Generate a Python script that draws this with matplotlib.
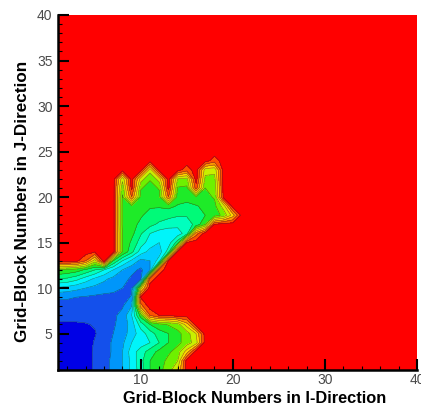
import numpy as np
import matplotlib
matplotlib.use("Agg")
import matplotlib.pyplot as plt
from matplotlib.colors import ListedColormap, BoundaryNorm
from matplotlib.ticker import MultipleLocator

plt.rcParams['font.family'] = ['Liberation Sans', 'DejaVu Sans']

# Grid-block indices (40 x 40 model)
i_blocks = np.arange(1, 41)
j_blocks = np.arange(1, 41)

# Background value of the field (swept region)
field_max = 13.0

# Field values in the lower-left corner, one row per J (J = 1, 2, ...), I = 1..22.
# Blocks not listed hold field_max.
row_j01 = [0, 0, 0, 0, 0.7, 1.2, 1.7, 2.5, 3.8, 5, 6.5, 7.2, 8, 9.5, 13]
row_j02 = [0, 0, 0, 0, 0.7, 1.2, 1.7, 2.5, 3.8, 5.2, 6.5, 7, 7.8, 8.5, 13]
row_j03 = [0, 0, 0, 0, 0.7, 1.2, 1.6, 2.5, 4, 5, 6, 6.8, 7.3, 8, 10, 13]
row_j04 = [0, 0, 0, 0, 0.6, 1.2, 1.6, 2.3, 3.5, 4, 4.5, 5.5, 6.5, 7.2, 8, 9, 13]
row_j05 = [0, 0, 0, 0, 0.4, 1.1, 1.5, 2, 3, 4, 5, 6, 6.5, 7.2, 8, 9.5, 13]
row_j06 = [0.3, 0.3, 0.3, 0.4, 0.6, 1.1, 1.4, 1.8, 3, 5, 6.5, 7.2, 7.6, 8, 10, 13]
row_j07 = [1, 1, 1, 1, 1, 1.1, 1.3, 1.8, 3.5, 7, 11.5, 12.5, 12.5, 13]
row_j08 = [1.2, 1.2, 1.1, 1.1, 1.1, 1.1, 1.2, 1.4, 2.5, 11, 13]
row_j09 = [1.6, 1.6, 1.5, 1.4, 1.3, 1.2, 1.2, 1.1, 1.6, 12.6, 13]
row_j10 = [3.3, 3.1, 2.8, 2.5, 2.2, 2, 1.8, 1.5, 1.2, 9, 13]
row_j11 = [5.5, 5.3, 4.8, 4, 3.3, 2.7, 2.2, 1.9, 1.3, 1.3, 12, 13]
row_j12 = [7.5, 7.3, 7, 6.3, 5.5, 4.5, 3.5, 2.5, 1.8, 1.3, 2.5, 12, 13]
row_j13 = [13, 13, 12.8, 11.5, 9, 13, 6.5, 4.5, 3.3, 2.2, 2.5, 4, 12.5, 13]
row_j14 = [13, 13, 13, 13, 12.6, 13, 13, 7.5, 5.8, 4, 3.2, 3, 5, 12.6, 13]
row_j15 = [13, 13, 13, 13, 13, 13, 13, 7.5, 6.3, 5, 4, 3.5, 4, 6, 12.5, 13]
row_j16 = [13, 13, 13, 13, 13, 13, 13, 7.5, 6.8, 5.6, 4.5, 4, 3.8, 4, 5, 11, 13]
row_j17 = [13, 13, 13, 13, 13, 13, 13, 7.3, 6.8, 6.3, 5.8, 5.3, 5, 4.8, 5, 5.8, 7.5, 12.5, 13]
row_j18 = [13, 13, 13, 13, 13, 13, 13, 7.3, 7, 6.6, 6.2, 6, 5.8, 5.6, 5.6, 6, 6.5, 7, 7.8, 10, 13]
row_j19 = [13, 13, 13, 13, 13, 13, 13, 7.3, 7.2, 6.9, 6.6, 6.6, 6.8, 6.4, 6.2, 6.4, 6.8, 7.2, 9, 13]
row_j20 = [13, 13, 13, 13, 13, 13, 13, 7.4, 11.5, 7.1, 6.9, 7.2, 11.5, 7, 6.9, 7.3, 7.2, 7.6, 12.8, 13]
row_j21 = [13, 13, 13, 13, 13, 13, 13, 7.8, 12.8, 7.6, 7.1, 7.6, 12.8, 7.4, 7.3, 12, 7.5, 7.8, 13]
row_j22 = [13, 13, 13, 13, 13, 13, 13, 8.8, 13, 9, 7.6, 9, 13, 8.5, 8.2, 13, 8.2, 8.2, 13]
row_j23 = [13, 13, 13, 13, 13, 13, 13, 13, 13, 13, 9, 13, 13, 13, 12, 13, 9, 8.8, 13]
row_j24 = [13, 13, 13, 13, 13, 13, 13, 13, 13, 13, 13, 13, 13, 13, 13, 13, 13, 12, 13]

corner_rows = [row_j01, row_j02, row_j03, row_j04, row_j05, row_j06, row_j07,
               row_j08, row_j09, row_j10, row_j11, row_j12, row_j13, row_j14,
               row_j15, row_j16, row_j17, row_j18, row_j19, row_j20, row_j21,
               row_j22, row_j23, row_j24]

# Contour levels and band colours (blue -> red)
levels = [-0.5, 0.5, 1.5, 2.5, 3.5, 4.5, 5.5, 6.5, 7.5, 8.5, 9.5, 10.5, 11.5, 12.5, 14.0]
band_colors = ['#0000e6', '#1450eb', '#0096fa', '#00cdff', '#00f5fa', '#00ffbe',
               '#00fa78', '#1eeb28', '#6ef000', '#c8f000', '#ffd700', '#ff9600',
               '#ff5000', '#ff0000']

Z = np.full((len(j_blocks), len(i_blocks)), field_max)
for r, row in enumerate(corner_rows):
    Z[r, :len(row)] = row

I, J = np.meshgrid(i_blocks, j_blocks)

W, H = 421, 409
fig = plt.figure(figsize=(W / 100, H / 100), dpi=100)
ax = fig.add_axes([58 / W, 1 - 370 / H, (417 - 58) / W, (370 - 15) / H])

cmap = ListedColormap(band_colors)
norm = BoundaryNorm(levels, cmap.N)
ax.contourf(I, J, Z, levels=levels, cmap=cmap, norm=norm)
ax.contour(I, J, Z, levels=levels[1:-1], colors='#2a2a2a', linewidths=0.4, alpha=0.6)

ax.set_xlim(1, 40)
ax.set_ylim(1, 40)
ax.set_aspect('auto')

for side in ('top', 'right'):
    ax.spines[side].set_visible(False)
for side in ('left', 'bottom'):
    ax.spines[side].set_linewidth(1.8)
    ax.spines[side].set_color('black')

ax.xaxis.set_major_locator(MultipleLocator(10))
ax.xaxis.set_minor_locator(MultipleLocator(2))
ax.yaxis.set_major_locator(MultipleLocator(5))
ax.yaxis.set_minor_locator(MultipleLocator(1))
ax.tick_params(which='major', direction='in', length=8, width=1.5, color='black',
               labelsize=10, labelcolor='#4a4a4a', pad=4)
ax.tick_params(which='minor', direction='in', length=3, width=0.8, color='black')
ax.tick_params(axis='x', which='major', pad=2.5)

ax.set_xlabel('Grid-Block Numbers in I-Direction', fontsize=11.8, fontweight='bold')
ax.set_ylabel('Grid-Block Numbers in J-Direction', fontsize=12.3, fontweight='bold')
ax.xaxis.set_label_coords(0.549, -0.058)
ax.yaxis.set_label_coords(-0.077, 0.476)

fig.savefig('out.png', dpi=100)
